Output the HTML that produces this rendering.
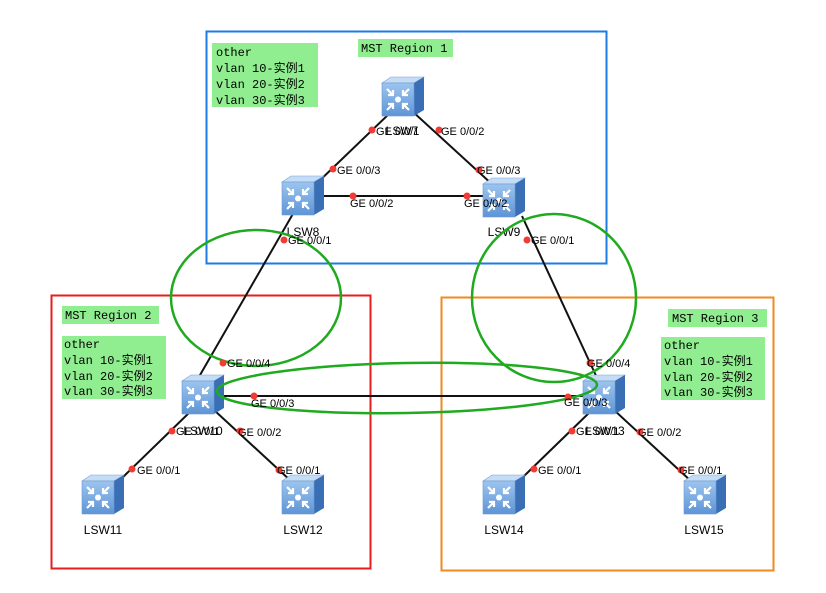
<!DOCTYPE html>
<html><head><meta charset="utf-8"><style>
html,body{margin:0;padding:0;background:#fff;}
svg{display:block;}
.ge{font-family:"Liberation Sans",Arial,sans-serif;font-size:11px;fill:#000;}
.lb{font-family:"Liberation Sans",Arial,sans-serif;font-size:12px;fill:#000;}
.m{font-family:"Liberation Mono","Noto Sans CJK SC",monospace;font-size:12px;fill:#000;}
</style></head><body>
<svg width="826" height="593" viewBox="0 0 826 593" xmlns="http://www.w3.org/2000/svg">
<defs>
<linearGradient id="gf" x1="0" y1="0" x2="0" y2="1"><stop offset="0" stop-color="#9cc4ef"/><stop offset="1" stop-color="#5e95d6"/></linearGradient>
<g id="sw">
<polygon points="0,6 9,0 42,0 32,6" fill="#c4dcf5" stroke="#7aa6d8" stroke-width="0.6"/>
<polygon points="32,6 42,0 42,33 32,39" fill="#3a6fb6"/>
<rect x="0" y="6" width="32" height="33" fill="url(#gf)" stroke="#6c9ad0" stroke-width="0.6"/>
<circle cx="16" cy="22.5" r="3" fill="#fff"/>
<g stroke="#fff" stroke-width="2.2" fill="none">
<path d="M5,12 L11,18 M11,13 L11,18 L6,18"/>
<path d="M27,12 L21,18 M21,13 L21,18 L26,18"/>
<path d="M5,33 L11,27 M11,32 L11,27 L6,27"/>
<path d="M27,33 L21,27 M21,32 L21,27 L26,27"/>
</g>
</g>
</defs>
<!-- regions -->
<rect x="206.5" y="31.5" width="400" height="232" fill="none" stroke="#1e7be6" stroke-width="2"/>
<rect x="51.5" y="295.5" width="319" height="273" fill="none" stroke="#e61e1e" stroke-width="2"/>
<rect x="441.5" y="297.5" width="332" height="273" fill="none" stroke="#f28a1e" stroke-width="2"/>
<!-- labels -->
<rect x="212" y="43" width="106" height="64" fill="#90ee90"/>
<text class="m" x="216" y="56">other</text>
<text class="m" x="216" y="72">vlan 10-实例1</text>
<text class="m" x="216" y="88">vlan 20-实例2</text>
<text class="m" x="216" y="104">vlan 30-实例3</text>
<rect x="358" y="39" width="95" height="18" fill="#90ee90"/>
<text class="m" x="361" y="52">MST Region 1</text>
<rect x="62" y="306" width="97" height="18" fill="#90ee90"/>
<text class="m" x="65" y="319">MST Region 2</text>
<rect x="62" y="336" width="104" height="63" fill="#90ee90"/>
<text class="m" x="64" y="348">other</text>
<text class="m" x="64" y="364">vlan 10-实例1</text>
<text class="m" x="64" y="380">vlan 20-实例2</text>
<text class="m" x="64" y="395">vlan 30-实例3</text>
<rect x="668" y="309" width="99" height="18" fill="#90ee90"/>
<text class="m" x="672" y="322">MST Region 3</text>
<rect x="661" y="337" width="104" height="63" fill="#90ee90"/>
<text class="m" x="664" y="349">other</text>
<text class="m" x="664" y="365">vlan 10-实例1</text>
<text class="m" x="664" y="381">vlan 20-实例2</text>
<text class="m" x="664" y="396">vlan 30-实例3</text>
<!-- links -->
<g stroke="#111" stroke-width="2">
<line x1="392" y1="111" x2="314" y2="186"/>
<line x1="412" y1="111" x2="494" y2="186"/>
<line x1="322" y1="196" x2="486" y2="196"/>
<line x1="294" y1="212" x2="196" y2="382"/>
<line x1="522" y1="216" x2="598" y2="380"/>
<line x1="222" y1="396" x2="584" y2="396"/>
<line x1="192" y1="410" x2="122" y2="478"/>
<line x1="214" y1="410" x2="292" y2="482"/>
<line x1="592" y1="410" x2="522" y2="478"/>
<line x1="614" y1="410" x2="692" y2="482"/>
</g>
<!-- switches -->
<use href="#sw" x="382" y="77"/>
<use href="#sw" x="282" y="176"/>
<use href="#sw" x="483" y="178"/>
<use href="#sw" x="182" y="375"/>
<use href="#sw" x="583" y="375"/>
<use href="#sw" x="82" y="475"/>
<use href="#sw" x="282" y="475"/>
<use href="#sw" x="483" y="475"/>
<use href="#sw" x="684" y="475"/>
<!-- names -->
<g class="lb" text-anchor="middle">
<text x="402" y="135">LSW7</text>
<text x="303" y="236">LSW8</text>
<text x="504" y="236">LSW9</text>
<text x="203" y="435">LSW10</text>
<text x="605" y="435">LSW13</text>
<text x="103" y="534">LSW11</text>
<text x="303" y="534">LSW12</text>
<text x="504" y="534">LSW14</text>
<text x="704" y="534">LSW15</text>
</g>
<!-- ellipses -->
<g fill="none" stroke="#1faa1f" stroke-width="2.5">
<ellipse cx="256" cy="298" rx="85" ry="68"/>
<ellipse cx="554" cy="298" rx="82" ry="84"/>
<ellipse cx="407" cy="388" rx="190" ry="25" transform="rotate(-1 407 388)"/>
</g>
<!-- ports -->
<g fill="#f03c32">
<circle cx="372" cy="130" r="3.5"/><circle cx="439" cy="130" r="3.5"/>
<circle cx="333" cy="169" r="3.5"/><circle cx="479" cy="170" r="3.5"/>
<circle cx="353" cy="196" r="3.5"/><circle cx="467" cy="196" r="3.5"/>
<circle cx="284" cy="240" r="3.5"/><circle cx="527" cy="240" r="3.5"/>
<circle cx="223" cy="363" r="3.5"/><circle cx="254" cy="396" r="3.5"/>
<circle cx="172" cy="431" r="3.5"/><circle cx="240" cy="431" r="3.5"/>
<circle cx="132" cy="469" r="3.5"/><circle cx="279" cy="470" r="3.5"/>
<circle cx="590" cy="363" r="3.5"/><circle cx="568" cy="397" r="3.5"/>
<circle cx="572" cy="431" r="3.5"/><circle cx="640" cy="432" r="3.5"/>
<circle cx="534" cy="469" r="3.5"/><circle cx="681" cy="470" r="3.5"/>
</g>
<g class="ge">
<text x="376" y="135">GE 0/0/1</text><text x="441" y="135">GE 0/0/2</text>
<text x="337" y="174">GE 0/0/3</text><text x="477" y="174">GE 0/0/3</text>
<text x="350" y="207">GE 0/0/2</text><text x="464" y="207">GE 0/0/2</text>
<text x="288" y="244">GE 0/0/1</text><text x="531" y="244">GE 0/0/1</text>
<text x="227" y="367">GE 0/0/4</text><text x="251" y="407">GE 0/0/3</text>
<text x="176" y="435">GE 0/0/1</text><text x="238" y="436">GE 0/0/2</text>
<text x="137" y="474">GE 0/0/1</text><text x="277" y="474">GE 0/0/1</text>
<text x="587" y="367">GE 0/0/4</text><text x="564" y="406">GE 0/0/3</text>
<text x="576" y="435">GE 0/0/1</text><text x="638" y="436">GE 0/0/2</text>
<text x="538" y="474">GE 0/0/1</text><text x="679" y="474">GE 0/0/1</text>
</g>
</svg>
</body></html>
